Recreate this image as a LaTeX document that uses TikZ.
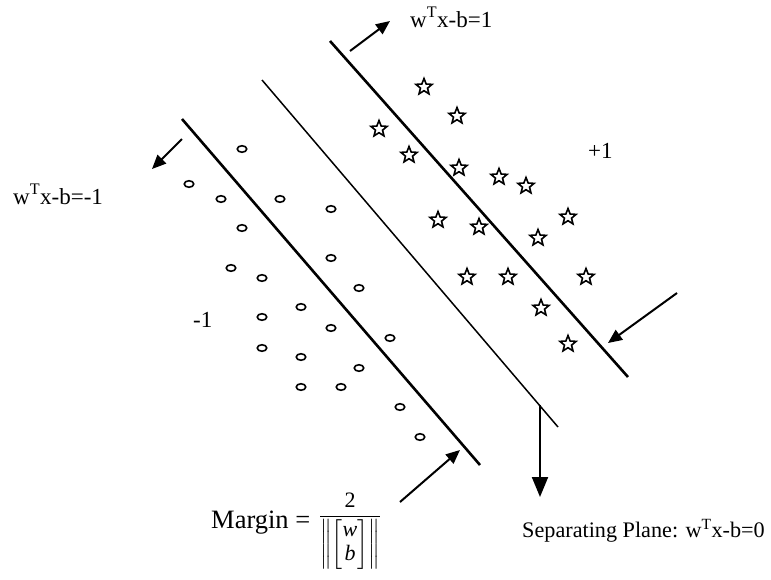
\documentclass[tikz,border=0pt]{standalone}
\usepackage{amsmath}
\usepackage{fontspec}
\setmainfont{Liberation Serif}
\usetikzlibrary{arrows.meta,shapes.geometric}
\begin{document}
\begin{tikzpicture}[x=1pt,y=-1pt,
  thickline/.style={line width=2.6pt},
  thinline/.style={line width=1.5pt},
  ptr/.style={line width=2pt,-{Triangle[length=14pt,width=12pt]}},
  bigptr/.style={line width=2pt,-{Triangle[length=20pt,width=16pt]}},
  circpt/.style={ellipse,draw,line width=1.6pt,minimum width=9.5pt,minimum height=6.5pt,inner sep=0},
  starpt/.style={star,star points=5,star point ratio=2.3,draw,line width=1.6pt,minimum size=17pt,inner sep=0},
  lbl/.style={inner sep=0,anchor=base west,font=\fontsize{23}{25}\selectfont}]
\useasboundingbox (0,0) rectangle (771,579);

% planes
\coordinate (u1) at (330,41);  \coordinate (u2) at (628,377);
\coordinate (m1) at (262,80);  \coordinate (m2) at (558,427);
\coordinate (l1) at (182,119); \coordinate (l2) at (480,465);
\draw[thickline] (u1) -- (u2);
\draw[thinline] (m1) -- (m2);
\draw[thickline] (l1) -- (l2);

% circles (class -1)
\foreach \x/\y [count=\i] in {242/149,189/184,221/199,280/199,331/209,242/228,
  231/268,262/278,331/258,359/288,301/307,262/317,331/328,390/338,262/348,
  301/357,359/368,301/387,341/387,400/407,420/437}
  \node[circpt] (c\i) at (\x,\y) {};

% stars (class +1)
\foreach \x/\y [count=\i] in {424/87,457/116,379/129,409/155,459/168,499/177,
  526/186,568/217,438/220,479/227,538/238,467/277,508/277,586/277,541/308,568/344}
  \node[starpt] (s\i) at (\x,\y) {};

% arrows
\coordinate (a1s) at (350,51);  \coordinate (a1e) at (390,21);
\coordinate (a2s) at (182,139); \coordinate (a2e) at (152,169);
\coordinate (a3s) at (677,293); \coordinate (a3e) at (608,343);
\coordinate (a4s) at (400,502); \coordinate (a4e) at (460,450);
\coordinate (a5s) at (540,405); \coordinate (a5e) at (540,497);
\draw[ptr] (a1s) -- (a1e);
\draw[ptr] (a2s) -- (a2e);
\draw[ptr] (a3s) -- (a3e);
\draw[ptr] (a4s) -- (a4e);
\draw[bigptr] (a5s) -- (a5e);

% labels
\node[lbl] (tp) at (410,27) {w\textsuperscript{T}x-b=1};
\node[lbl] (tm) at (13,204) {w\textsuperscript{T}x-b=-1};
\node[lbl] (plus) at (588,158) {+1};
\node[lbl] (minus) at (193,327) {-1};
\node[lbl,font=\fontsize{22.2}{24}\selectfont] (sep) at (522,537) {Separating Plane: w\textsuperscript{T}x-b=0};
\node[lbl,font=\fontsize{26.5}{28}\selectfont] (marg) at (211,528) {Margin =};
\node[inner sep=0,font=\fontsize{22}{24}\selectfont] (frac) at (350,531)
  {$\displaystyle\frac{\text{2}}{\left\|\begin{bmatrix}\textit{w}\\ \textit{b}\end{bmatrix}\right\|}$};
\end{tikzpicture}
\end{document}
